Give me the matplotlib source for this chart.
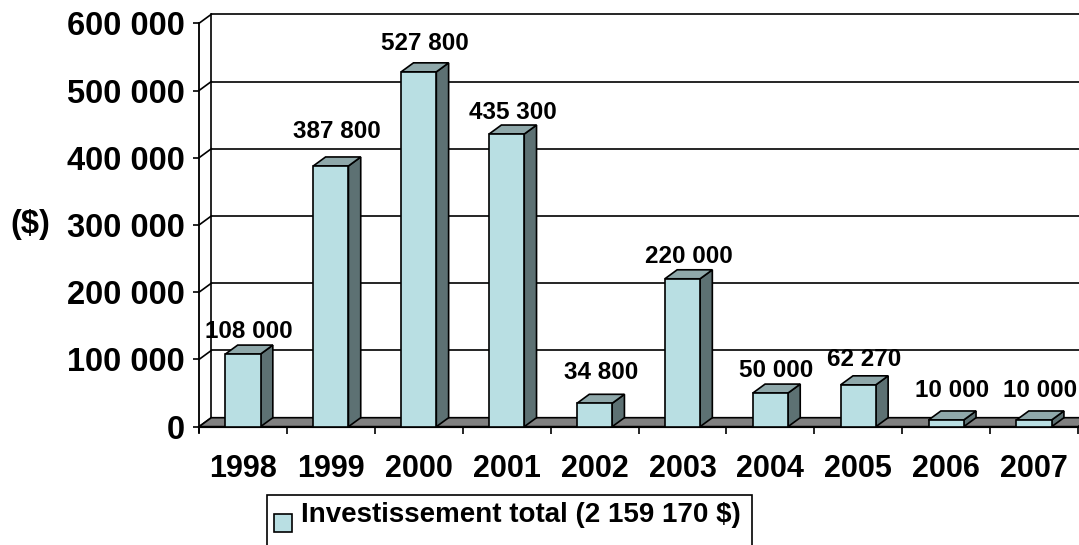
import matplotlib
matplotlib.use("Agg")
import matplotlib.pyplot as plt
from matplotlib.patches import Polygon, Rectangle

# ---- data ----
years = ["1998", "1999", "2000", "2001", "2002", "2003", "2004", "2005", "2006", "2007"]
investment = [108000, 387800, 527800, 435300, 34800, 220000, 50000, 62270, 10000, 10000]
value_labels = ["108 000", "387 800", "527 800", "435 300", "34 800",
                "220 000", "50 000", "62 270", "10 000", "10 000"]
y_ticks = [0, 100000, 200000, 300000, 400000, 500000, 600000]
y_tick_labels = ["0", "100 000", "200 000", "300 000", "400 000", "500 000", "600 000"]
legend_label = "Investissement total (2 159 170 $)"
y_axis_label = "($)"

# ---- layout / style ----
label_gap_px = [7, 19, 13, 6, 15, 7, 7, 10, 14, 14]
FRONT = "#B9DFE3"
SIDE = "#5D7173"
TOP = "#8FA8AA"
FLOOR = "#808080"
LW = 1.2
FONT = "Liberation Sans"

plt.rcParams["font.family"] = [FONT, "DejaVu Sans"]
plt.rcParams["font.weight"] = "bold"

W, H = 1079, 545
fig = plt.figure(figsize=(W / 100, H / 100), dpi=100)
ax = fig.add_axes([199 / W, (H - 426.7) / H, 879 / W, 403.4 / H])
n = len(years)
ymax = 600000
ax.set_xlim(0, n)
ax.set_ylim(0, ymax)

# depth offsets in data units
dx = 12.3 / (879 / n)
dy = 9.0 * ymax / 403.4

# spines
for s in ["top", "right", "bottom"]:
    ax.spines[s].set_visible(False)
ax.spines["left"].set_linewidth(LW * 1.1)
ax.spines["left"].set_bounds(-0.012 * ymax, ymax)
ax.spines["left"].set_clip_on(False)

# y ticks
ax.set_yticks(y_ticks)
ax.set_yticklabels(y_tick_labels, fontsize=23.5, fontweight="bold")
ax.tick_params(axis="y", length=4.3, width=LW, pad=6, direction="out")

# x ticks: boundaries (marks) and centers (labels)
ax.set_xticks(list(range(n + 1)))
ax.set_xticklabels([])
ax.tick_params(axis="x", which="major", length=5, width=LW, direction="out")
ax.set_xticks([i + 0.5 for i in range(n)], minor=True)
ax.set_xticklabels(years, minor=True, fontsize=22, fontweight="bold")
ax.tick_params(axis="x", which="minor", length=0, pad=19.5)

# y axis label
ax.set_ylabel(y_axis_label, rotation=0, fontsize=23.5, fontweight="bold",
              ha="right", va="center", labelpad=12)

# back wall: gridlines + left wall diagonals
for v in y_ticks:
    if v > 0:
        ax.plot([dx, n + dx], [v + dy, v + dy], color="black", lw=LW,
                clip_on=False, zorder=1, solid_capstyle="butt")
    ax.plot([0, dx], [v, v + dy], color="black", lw=LW, clip_on=False, zorder=1)
ax.plot([dx, dx], [dy, ymax + dy], color="black", lw=LW, clip_on=False, zorder=1)

# floor
ax.add_patch(Polygon([(0, 0), (n, 0), (n + dx, dy), (dx, dy)], closed=True,
                     facecolor=FLOOR, edgecolor="black", lw=LW, clip_on=False, zorder=2))
ax.plot([0, n], [0, 0], color="black", lw=LW * 1.3, clip_on=False, zorder=2.5)

# bars
bw = 0.4
for i, v in enumerate(investment):
    x0 = i + 0.5 - bw / 2
    x1 = x0 + bw
    ax.add_patch(Polygon([(x1, 0), (x1 + dx, dy), (x1 + dx, v + dy), (x1, v)], closed=True,
                         facecolor=SIDE, edgecolor="black", lw=LW, clip_on=False, zorder=3))
    ax.add_patch(Polygon([(x0, v), (x1, v), (x1 + dx, v + dy), (x0 + dx, v + dy)], closed=True,
                         facecolor=TOP, edgecolor="black", lw=LW, clip_on=False, zorder=3))
    ax.add_patch(Rectangle((x0, 0), bw, v, facecolor=FRONT, edgecolor="black",
                           lw=LW, clip_on=False, zorder=4))
    ax.annotate(value_labels[i], xy=(x0 + bw / 2 + dx / 2, v + dy),
                xytext=(0, label_gap_px[i]), textcoords="offset pixels",
                ha="center", va="baseline", fontsize=17.5, fontweight="bold",
                annotation_clip=False, zorder=5)

# legend (manual, box runs off the bottom edge)
fig.patches.append(Rectangle((267 / W, (H - 560) / H), (752 - 267) / W, (560 - 495) / H,
                             transform=fig.transFigure, facecolor="white",
                             edgecolor="black", lw=LW, clip_on=False))
fig.patches.append(Rectangle((274 / W, (H - 532) / H), 18 / W, 18 / H,
                             transform=fig.transFigure, facecolor=FRONT,
                             edgecolor="black", lw=LW, clip_on=False))
fig.text(301 / W, (H - 515) / H, legend_label, fontsize=20, fontweight="bold",
         ha="left", va="center")

fig.savefig("out.png", dpi=100)
